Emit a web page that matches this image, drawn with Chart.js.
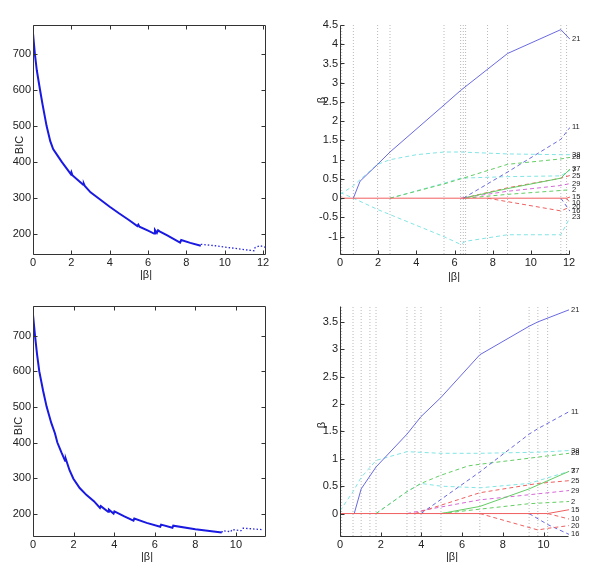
<!DOCTYPE html>
<html>
<head>
<meta charset="utf-8">
<script src="https://cdn.jsdelivr.net/npm/chart.js@4.4.0/dist/chart.umd.min.js"></script>
<style>
  body { margin: 0; background: #fff; }
  #wrap { position: relative; width: 600px; height: 577px; }
  canvas { position: absolute; }
</style>
</head>
<body>
<div id="wrap">
  <canvas id="c1" width="300" height="290" style="left:0px;top:0px"></canvas>
  <canvas id="c2" width="300" height="290" style="left:300px;top:0px"></canvas>
  <canvas id="c3" width="300" height="287" style="left:0px;top:290px"></canvas>
  <canvas id="c4" width="300" height="287" style="left:300px;top:290px"></canvas>
</div>
<script>
// Tick labels
var bicTicks = [200, 300, 400, 500, 600, 700];
var topXTicks = [0, 2, 4, 6, 8, 10, 12];
var botXTicks = [0, 2, 4, 6, 8, 10];
var topBetaTicks = [-1, -0.5, 0, 0.5, 1, 1.5, 2, 2.5, 3, 3.5, 4, 4.5];
var botBetaTicks = [0, 0.5, 1, 1.5, 2, 2.5, 3, 3.5];

// BIC along the path, [|beta|, BIC]
var bicTopSolid = [[0,759],[0.1,700],[0.2,655],[0.37,600],[0.5,560],[0.71,500],[0.9,458],[1.05,436],[1.5,400],[1.97,366],[2.0,371],[2.05,363],[2.62,336],[2.65,339],[2.7,333],[3.0,315],[3.5,295],[4.0,275],[4.5,256],[5.0,238],[5.44,221],[5.49,225],[5.55,219],[6.0,208],[6.31,200],[6.36,210],[6.46,202],[6.52,209],[6.6,206],[7.0,195],[7.67,175],[7.73,182],[8.2,174],[8.75,166]];
var bicTopDotted = [[8.75,170],[9.5,166],[10.2,161],[10.9,156],[11.52,152],[11.58,161],[11.85,166],[12.15,161]];
var bicBotSolid = [[0,759],[0.1,700],[0.2,648],[0.31,600],[0.5,545],[0.67,501],[0.9,455],[1.08,426],[1.2,400],[1.4,372],[1.58,349],[1.62,353],[1.8,322],[1.99,298],[2.3,272],[2.64,252],[3.0,235],[3.3,216],[3.34,221],[3.7,205],[3.74,211],[3.97,200],[4.01,206],[4.5,192],[4.95,180],[4.99,186],[5.6,174],[6.27,163],[6.31,169],[6.87,160],[6.91,166],[8.0,156],[9.3,147]];
var bicBotDotted = [[9.3,147],[9.35,152],[9.75,149],[9.8,155],[10.25,152],[10.35,159],[11.3,155]];

// Breakpoints where the active set changes
var topBreaks = [0.09, 0.7, 1.97, 2.62, 5.45, 6.32, 6.46, 6.58, 7.73, 8.78, 11.57, 11.87];
var botBreaks = [0.08, 0.64, 1.04, 1.47, 1.77, 3.29, 3.68, 3.98, 4.96, 6.87, 9.29, 9.72, 10.2];

// Coefficient paths, top run
var t21 = [[0.7,0],[1.05,0.44],[1.97,0.88],[2.62,1.2],[5.45,2.42],[6.32,2.8],[8.78,3.76],[11.57,4.38],[12.05,4.13]];
var t11 = [[6.46,0],[8.78,0.68],[11.57,1.53],[12.05,1.84]];
var t38 = [[0,0.1],[0.7,0.32],[1.05,0.48],[1.97,0.88],[2.62,1.0],[4.0,1.13],[5.45,1.2],[6.32,1.2],[8.78,1.15],[11.57,1.13],[12.05,1.13]];
var t28 = [[2.62,0],[5.45,0.37],[6.32,0.5],[8.78,0.88],[11.57,1.02],[12.05,1.06]];
var t37 = [[6.46,0],[8.78,0.25],[11.57,0.52],[12.05,0.76]];
var t7 = [[2.62,0],[5.45,0.39],[6.32,0.52],[8.78,0.56],[11.57,0.58],[12.05,0.73]];
var t25 = [[6.46,0],[8.78,0.27],[11.57,0.52],[12.05,0.59]];
var t29 = [[6.32,0],[8.78,0.18],[11.57,0.33],[12.05,0.38]];
var t2 = [[6.58,0],[8.78,0.1],[11.57,0.2],[12.05,0.22]];
var t15 = [[0,0],[11.87,0],[12.05,0.03]];
var t10 = [[11.87,0],[12.05,-0.12]];
var t20 = [[7.73,0],[11.57,-0.33],[12.05,-0.23]];
var t16 = [[11.57,0],[12.05,-0.34]];
var t23 = [[0,0.15],[0.7,0],[2.0,-0.3],[5.45,-1.0],[6.32,-1.2],[6.58,-1.12],[8.78,-0.95],[11.57,-0.95],[12.05,-0.5]];

// Coefficient paths, bottom run
var b21 = [[0.7,0],[1.04,0.45],[1.77,0.85],[3.29,1.45],[3.98,1.77],[4.96,2.12],[6.87,2.9],[9.29,3.42],[9.72,3.5],[11.25,3.72]];
var b11 = [[3.98,0],[6.87,0.76],[9.29,1.45],[9.72,1.55],[11.25,1.86]];
var b38 = [[0,0.05],[0.64,0.4],[1.04,0.66],[1.77,0.97],[3.29,1.13],[4.96,1.1],[6.87,1.1],[9.72,1.12],[11.25,1.15]];
var b28 = [[1.77,0],[3.29,0.4],[3.98,0.55],[4.96,0.7],[6.3,0.87],[6.87,0.9],[9.72,1.03],[11.25,1.1]];
var b37 = [[4.96,0],[6.87,0.13],[9.29,0.45],[11.25,0.77]];
var b7 = [[1.77,0],[3.29,0.4],[3.98,0.55],[4.96,0.5],[6.87,0.47],[9.29,0.55],[11.25,0.77]];
var b25 = [[3.68,0],[6.87,0.38],[9.72,0.55],[11.25,0.6]];
var b29 = [[3.29,0],[4.96,0.12],[6.87,0.25],[9.72,0.36],[11.25,0.42]];
var b2 = [[4.96,0],[6.87,0.08],[9.29,0.18],[11.25,0.22]];
var b15 = [[0,0],[10.2,0],[11.25,0.07]];
var b10 = [[10.2,0],[11.25,-0.1]];
var b20 = [[6.87,0],[9.72,-0.3],[10.2,-0.27],[11.25,-0.22]];
var b16 = [[9.29,0],[10.2,-0.2],[11.25,-0.38]];

var BLUE = 'rgb(105,105,225)';
var CYAN = 'rgb(130,228,228)';
var GREEN = 'rgb(100,205,100)';
var RED = 'rgb(240,95,95)';
var MAGENTA = 'rgb(215,105,215)';
var FONT = '"Liberation Sans Narrow", "Liberation Sans", Arial, sans-serif';

function pts(a) {
    return a.map(function(p) { return { x: p[0], y: p[1] }; });
}

function path(label, data, color, dashed) {
    return {
        data: pts(data),
        borderColor: color,
        borderWidth: 1,
        borderDash: dashed ? [4, 3] : [],
        pointRadius: 0,
        tension: 0,
        endLabel: label
    };
}

// gray dotted verticals at each breakpoint, separated by gaps
function breakLines(breaks, yMin, yMax) {
    var d = [];
    breaks.forEach(function(b) {
        d.push({ x: b, y: yMin }, { x: b, y: yMax }, { x: b, y: null });
    });
    return {
        data: d,
        borderColor: 'rgb(185,185,185)',
        borderWidth: 1,
        borderDash: [1, 2],
        pointRadius: 0,
        spanGaps: false
    };
}

var endLabels = {
    id: 'endLabels',
    afterDatasetsDraw: function(chart) {
        var ctx = chart.ctx;
        ctx.save();
        ctx.font = '7.5px ' + FONT;
        ctx.fillStyle = '#222';
        ctx.textBaseline = 'middle';
        chart.data.datasets.forEach(function(ds, i) {
            if (!ds.endLabel) return;
            var els = chart.getDatasetMeta(i).data;
            var last = els[els.length - 1];
            ctx.fillText(ds.endLabel, last.x + 2, last.y);
        });
        ctx.restore();
    }
};

// axis lines, inward tick marks and axis titles (MATLAB look)
var frame = {
    id: 'frame',
    afterDraw: function(chart, args, opts) {
        var a = chart.chartArea, ctx = chart.ctx;
        var xs = chart.scales.x, ys = chart.scales.y;
        var L = a.left + 0.5, B = a.bottom + 0.5, R = a.right - 0.5, T = a.top + 0.5;
        ctx.save();
        ctx.strokeStyle = '#333';
        ctx.lineWidth = 1;
        ctx.beginPath();
        ctx.moveTo(L, T); ctx.lineTo(L, B); ctx.lineTo(R, B);
        if (opts.box) { ctx.lineTo(R, T); ctx.lineTo(L, T); }
        xs.ticks.forEach(function(t) {
            var px = Math.round(xs.getPixelForValue(t.value)) + 0.5;
            ctx.moveTo(px, B); ctx.lineTo(px, B - 4);
            if (opts.box) { ctx.moveTo(px, T); ctx.lineTo(px, T + 4); }
        });
        ys.ticks.forEach(function(t) {
            var py = Math.round(ys.getPixelForValue(t.value)) + 0.5;
            ctx.moveTo(L, py); ctx.lineTo(L + 4, py);
            if (opts.box) { ctx.moveTo(R, py); ctx.lineTo(R - 4, py); }
        });
        ctx.stroke();
        ctx.fillStyle = '#222';
        ctx.font = '11px ' + FONT;
        ctx.textAlign = 'center';
        ctx.textBaseline = 'middle';
        ctx.fillText(opts.xTitle, opts.xTitlePos[0], opts.xTitlePos[1]);
        ctx.translate(opts.yTitlePos[0], opts.yTitlePos[1]);
        ctx.rotate(-Math.PI / 2);
        ctx.fillText(opts.yTitle, 0, 0);
        ctx.restore();
    }
};

function makeChart(id, c) {
    var tickFont = { family: FONT, size: 11 };
    return new Chart(document.getElementById(id), {
        type: 'line',
        data: { datasets: c.datasets },
        options: {
            responsive: false,
            animation: false,
            layout: { padding: c.padding },
            plugins: {
                legend: { display: false },
                tooltip: { enabled: false },
                frame: c.frame
            },
            scales: {
                x: {
                    type: 'linear',
                    min: c.xMin, max: c.xMax,
                    afterBuildTicks: function(s) { s.ticks = c.xTicks.map(function(v) { return { value: v }; }); },
                    afterFit: function(s) { s.height = 25; },
                    grid: { display: false, drawTicks: false },
                    border: { display: false },
                    ticks: { font: tickFont, color: '#222', padding: 2, autoSkip: false, maxRotation: 0,
                             callback: function(v) { return String(v); } }
                },
                y: {
                    type: 'linear',
                    min: c.yMin, max: c.yMax,
                    afterBuildTicks: function(s) { s.ticks = c.yTicks.map(function(v) { return { value: v }; }); },
                    afterFit: function(s) { s.width = c.yWidth; },
                    grid: { display: false, drawTicks: false },
                    border: { display: false },
                    ticks: { font: tickFont, color: '#222', padding: 2, autoSkip: false,
                             callback: function(v) { return String(v); } }
                }
            }
        },
        plugins: [endLabels, frame]
    });
}

// top left: BIC
makeChart('c1', {
    xMin: 0, xMax: 12.15, yMin: 143, yMax: 782,
    xTicks: topXTicks, yTicks: bicTicks,
    padding: { left: 0, top: 25, right: 34, bottom: 11 }, yWidth: 33,
    frame: { box: true, xTitle: '|β|', xTitlePos: [146, 275], yTitle: 'BIC', yTitlePos: [20, 145] },
    datasets: [
        { data: pts(bicTopSolid), borderColor: 'rgb(25,25,225)', borderWidth: 2, pointRadius: 0, tension: 0 },
        { data: pts(bicTopDotted), borderColor: 'rgb(40,40,225)', borderWidth: 1.3, borderDash: [1.5, 2], pointRadius: 0, tension: 0 }
    ]
});

// top right: coefficient paths
makeChart('c2', {
    xMin: 0, xMax: 12.05, yMin: -1.45, yMax: 4.5,
    xTicks: topXTicks, yTicks: topBetaTicks,
    padding: { left: 0, top: 25, right: 30, bottom: 11 }, yWidth: 40,
    frame: { box: false, xTitle: '|β|', xTitlePos: [154, 277], yTitle: 'β', yTitlePos: [22, 100] },
    datasets: [
        path('15', t15, RED, false),
        path('21', t21, BLUE, false),
        path('11', t11, BLUE, true),
        path('37', t37, GREEN, false),
        path('25', t25, RED, true),
        path('29', t29, MAGENTA, true),
        path('2', t2, GREEN, true),
        path('10', t10, RED, true),
        path('20', t20, RED, true),
        path('16', t16, BLUE, true),
        path('28', t28, GREEN, true),
        path('7', t7, CYAN, true),
        path('38', t38, CYAN, true),
        path('23', t23, CYAN, true),
        breakLines(topBreaks, -1.45, 4.5)
    ]
});

// bottom left: BIC
makeChart('c3', {
    xMin: 0, xMax: 11.48, yMin: 137, yMax: 784,
    xTicks: botXTicks, yTicks: bicTicks,
    padding: { left: 0, top: 16, right: 34, bottom: 16 }, yWidth: 33,
    frame: { box: true, xTitle: '|β|', xTitlePos: [147, 267], yTitle: 'BIC', yTitlePos: [19, 136] },
    datasets: [
        { data: pts(bicBotSolid), borderColor: 'rgb(25,25,225)', borderWidth: 2, pointRadius: 0, tension: 0 },
        { data: pts(bicBotDotted), borderColor: 'rgb(40,40,225)', borderWidth: 1.3, borderDash: [1.5, 2], pointRadius: 0, tension: 0 }
    ]
});

// bottom right: coefficient paths
makeChart('c4', {
    xMin: 0, xMax: 11.25, yMin: -0.41, yMax: 3.79,
    xTicks: botXTicks, yTicks: botBetaTicks,
    padding: { left: 0, top: 16, right: 31, bottom: 16 }, yWidth: 40,
    frame: { box: false, xTitle: '|β|', xTitlePos: [152, 267], yTitle: 'β', yTitlePos: [22, 135] },
    datasets: [
        path('15', b15, RED, false),
        path('21', b21, BLUE, false),
        path('11', b11, BLUE, true),
        path('37', b37, GREEN, false),
        path('25', b25, RED, true),
        path('29', b29, MAGENTA, true),
        path('2', b2, GREEN, true),
        path('10', b10, RED, true),
        path('20', b20, RED, true),
        path('16', b16, BLUE, true),
        path('28', b28, GREEN, true),
        path('7', b7, CYAN, true),
        path('38', b38, CYAN, true),
        breakLines(botBreaks, -0.41, 3.79)
    ]
});
</script>
</body>
</html>
